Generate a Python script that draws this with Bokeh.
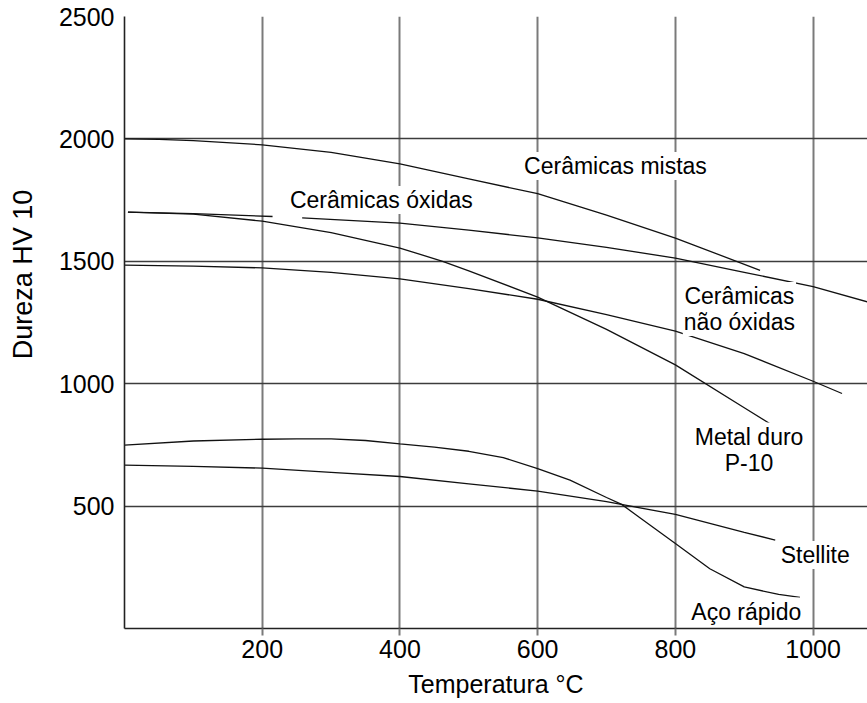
import math
from bokeh.plotting import figure
from bokeh.models import Label, FixedTicker, Range1d
from bokeh.layouts import row
from bokeh.core.properties import value
from bokeh.embed import file_html
from bokeh.resources import INLINE

nan = float("nan")

# ---- data ----
x_ticks = [200, 400, 600, 800, 1000]
y_ticks = [500, 1000, 1500, 2000, 2500]

mistas_x = [0, 50, 100, 200, 300, 400, 500, 600, 700, 800, 923]
mistas_y = [2000, 1998, 1993, 1976, 1945, 1898, 1837, 1776, 1689, 1595, 1463]

oxidas_x = [5, 100, 215, nan, 258, 400, 500, 600, 700, 800, 900, 1000, 1079]
oxidas_y = [1701, 1695, 1683, nan, 1677, 1656, 1627, 1596, 1557, 1513, 1455, 1397, 1334]

nao_oxidas_x = [0, 100, 200, 300, 400, 500, 600, 700, 800, 900, 1000, 1042]
nao_oxidas_y = [1484, 1480, 1473, 1455, 1428, 1388, 1345, 1282, 1215, 1123, 1010, 960]

metal_x = [5, 100, 200, 300, 400, 462, 500, 600, 700, 800, 900, 945]
metal_y = [1701, 1693, 1664, 1617, 1554, 1500, 1461, 1354, 1222, 1077, 902, 823]

aco_x = [0, 100, 200, 250, 300, 350, 400, 450, 500, 550, 600, 647, 700, 722, 750,
         800, 850, 900, 950, 981]
aco_y = [749, 766, 773, 775, 775, 768, 754, 741, 724, 698, 653, 606, 535, 507, 449,
         347, 244, 170, 139, 127]

stellite_x = [0, 100, 200, 300, 400, 500, 600, 700, 800, 900, 945]
stellite_y = [667, 662, 655, 638, 621, 591, 561, 518, 466, 393, 361]

label_texts = ["Cerâmicas mistas", "Cerâmicas óxidas", "Cerâmicas\nnão óxidas",
               "Metal duro\nP-10", "Stellite", "Aço rápido"]
label_x = [713, 373, 893, 907, 1003, 903]
label_y = [1889, 1750, 1305, 731, 300, 69]

x_title = "Temperatura °C"
y_title = "Dureza HV 10"

FONT = "Liberation Sans"
TOP, BOTTOM, HEIGHT = 16, 75, 703
TITLE_W = 45

# ---- main chart ----
p = figure(width=867 - TITLE_W, height=HEIGHT,
           x_range=Range1d(0, 1079), y_range=Range1d(0, 2500),
           output_backend="svg", toolbar_location=None,
           min_border_left=124 - TITLE_W, min_border_right=0,
           min_border_top=TOP, min_border_bottom=BOTTOM)
p.outline_line_color = None
p.background_fill_color = "white"
p.border_fill_color = "white"

p.xgrid.ticker = FixedTicker(ticks=x_ticks)
p.xgrid.grid_line_color = "#7a7a7a"
p.xgrid.grid_line_width = 2
p.ygrid.ticker = FixedTicker(ticks=y_ticks)
p.ygrid.grid_line_color = "#3c3c3c"
p.ygrid.grid_line_width = 1.6

for ax in (p.xaxis[0], p.yaxis[0]):
    ax.axis_line_color = "#222222"
    ax.axis_line_width = 1.6
    ax.minor_tick_line_color = None
    ax.major_label_text_font = FONT
    ax.major_label_text_font_size = "25px"
    ax.major_label_text_color = "black"

p.xaxis.ticker = FixedTicker(ticks=x_ticks)
p.xaxis.major_tick_out = 7
p.xaxis.major_tick_in = 0
p.xaxis.major_tick_line_color = "#7a7a7a"
p.xaxis.major_tick_line_width = 2
p.xaxis.major_label_standoff = 4
p.xaxis.axis_label = x_title
p.xaxis.axis_label_text_font = FONT
p.xaxis.axis_label_text_font_size = "25px"
p.xaxis.axis_label_text_font_style = "normal"
p.xaxis.axis_label_text_color = "black"
p.xaxis.axis_label_standoff = 9

p.yaxis.ticker = FixedTicker(ticks=y_ticks)
p.yaxis.major_tick_out = 0
p.yaxis.major_tick_in = 0
p.yaxis.major_label_standoff = 10

for xs, ys in [(mistas_x, mistas_y), (oxidas_x, oxidas_y), (nao_oxidas_x, nao_oxidas_y),
               (metal_x, metal_y), (aco_x, aco_y), (stellite_x, stellite_y)]:
    p.line(xs, ys, line_color="#111111", line_width=1.3)

for t, lx, ly in zip(label_texts, label_x, label_y):
    p.add_layout(Label(x=lx, y=ly, text=t, text_align="center", text_baseline="middle",
                       text_font=FONT, text_font_size="23px", text_color="black",
                       text_line_height=1.0,
                       background_fill_color="white", padding=1))

# ---- narrow strip holding the vertical y title ----
t = figure(width=TITLE_W, height=HEIGHT, x_range=Range1d(0, 1), y_range=p.y_range,
           output_backend="svg", toolbar_location=None,
           x_axis_location=None, y_axis_location=None,
           min_border_left=0, min_border_right=0,
           min_border_top=TOP, min_border_bottom=BOTTOM)
t.outline_line_color = None
t.xgrid.visible = False
t.ygrid.visible = False
t.text(x=[0.5], y=[1446], text=[y_title], angle=math.pi / 2,
       text_align="center", text_baseline="middle",
       text_font=value(FONT), text_font_size="27px", text_color="black")

layout = row(t, p, spacing=0)
open("out.html", "w").write(file_html(layout, INLINE))
